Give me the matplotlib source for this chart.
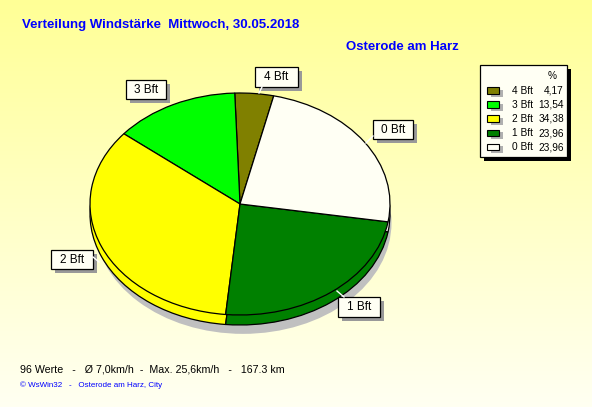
import numpy as np
import matplotlib
matplotlib.use("Agg")
import matplotlib.pyplot as plt
from matplotlib.patches import Rectangle, Ellipse

plt.rcParams['font.family'] = ['Liberation Sans', 'DejaVu Sans']

# ---- data ----
categories = ['4 Bft', '3 Bft', '2 Bft', '1 Bft', '0 Bft']
values = [4.17, 13.54, 34.38, 23.96, 23.96]
value_labels = ['4,17', '13,54', '34,38', '23,96', '23,96']
colors = ['#808000', '#00FF00', '#FFFF00', '#008000', '#FFFFF4']

title = 'Verteilung Windstärke  Mittwoch, 30.05.2018'
station = 'Osterode am Harz'
footer1 = '96 Werte   -   Ø 7,0km/h  -  Max. 25,6km/h   -   167.3 km'
footer2 = '© WsWin32   -   Osterode am Harz, City'

W, H = 592, 407
fig = plt.figure(figsize=(W / 100, H / 100), dpi=100)

# background axes in pixel coords
bg = fig.add_axes([0, 0, 1, 1])
bg.set_xlim(0, W)
bg.set_ylim(H, 0)
bg.axis('off')
top = np.array([255, 255, 150]) / 255
bot = np.array([255, 255, 242]) / 255
t = np.linspace(0, 1, 256)[:, None]
grad = (top[None, :] * (1 - t) + bot[None, :] * t)[:, None, :]
grad = np.repeat(grad, 2, axis=1)
bg.imshow(grad, extent=[0, W, H, 0], aspect='auto', zorder=0)

blue = '#0000FF'
bg.text(22, 25, title, color=blue, fontsize=9.5, fontweight='bold', va='center', ha='left')
bg.text(346, 47, station, color=blue, fontsize=9.5, fontweight='bold', va='center', ha='left')
bg.text(20, 369, footer1, color='black', fontsize=7.7, va='center', ha='left')
bg.text(20, 385.5, footer2, color=blue, fontsize=5.8, va='center', ha='left')

# ---- pie axes (ellipse via auto aspect) ----
px0, px1, py0, py1 = 80, 400, 80, 345
cx, cy, rx, ry = 240, 204, 150, 111
pa = fig.add_axes([px0 / W, (H - py1) / H, (px1 - px0) / W, (py1 - py0) / H])
pa.patch.set_alpha(0)

depth = 10 / ry
# shadow
pa.add_patch(Ellipse((0.02, -0.17), 1.98, 2.0, facecolor='#C0C0C0', edgecolor='none', zorder=0))
wp = dict(edgecolor='black', linewidth=0.9)
pa.pie(values, colors=colors, startangle=77, counterclock=True, center=(0, -depth),
       radius=1.0, wedgeprops=wp, normalize=True, frame=False)
pa.pie(values, colors=colors, startangle=77, counterclock=True, center=(0, 0),
       radius=1.0, wedgeprops=wp, normalize=True, frame=False)
pa.set_xlim((px0 - cx) / rx, (px1 - cx) / rx)
pa.set_ylim(-(py1 - cy) / ry, (cy - py0) / ry)
pa.set_aspect('auto')
pa.axis('off')

# ---- slice labels (boxes in pixel coords) ----
label_boxes = {
    '4 Bft': (255, 67, 43, 20),
    '3 Bft': (126, 80, 40, 19),
    '0 Bft': (373, 120, 40, 19),
    '2 Bft': (51, 250, 42, 19),
    '1 Bft': (338, 297, 42, 20),
}
leaders = {
    '4 Bft': ((262, 87), (259, 93)),
    '0 Bft': ((373, 136), (366, 143)),
    '2 Bft': ((93, 257), (99, 262)),
    '1 Bft': ((344, 297), (337, 291)),
}
for name, (x, y, w, h) in label_boxes.items():
    fig.add_artist(Rectangle((x + 4, y + 4), w, h, facecolor='#999999', edgecolor='none', zorder=5,
                             transform=bg.transData))
    fig.add_artist(Rectangle((x, y), w, h, facecolor='#FFFFF4', edgecolor='black', linewidth=0.9,
                             zorder=6, transform=bg.transData))
    tt = fig.text(0, 0, name, transform=bg.transData, fontsize=8.5, ha='center', va='center', zorder=7)
    tt.set_position((x + w / 2, y + h / 2 + 0.5))
for name, ((x0, y0), (x1, y1)) in leaders.items():
    fig.add_artist(plt.Line2D([x0, x1], [y0, y1], color='white', linewidth=1.0, zorder=6,
                              transform=bg.transData))

# ---- legend ----
lx, ly, lw, lh = 480, 65, 87, 92
fig.add_artist(Rectangle((lx + 3.5, ly + 3.5), lw, lh, facecolor='black', edgecolor='none', zorder=5,
                         transform=bg.transData))
fig.add_artist(Rectangle((lx, ly), lw, lh, facecolor='#FFFFF4', edgecolor='black', linewidth=0.9,
                         zorder=6, transform=bg.transData))
tp = fig.text(0, 0, '%', transform=bg.transData, fontsize=7.3, ha='center', va='center', zorder=7)
tp.set_position((552.5, 76))
row_y0, row_dy = 90.5, 14.2
for i, (name, vl, c) in enumerate(zip(categories, value_labels, colors)):
    yy = row_y0 + i * row_dy
    fig.add_artist(Rectangle((491, yy - 1), 12, 7, facecolor='#B0B0B0', edgecolor='none', zorder=6,
                             transform=bg.transData))
    fig.add_artist(Rectangle((487, yy - 3.5), 11.5, 6.5, facecolor=c, edgecolor='black', linewidth=0.8,
                             zorder=7, transform=bg.transData))
    t1 = fig.text(0, 0, name, transform=bg.transData, fontsize=7.3, ha='left', va='center', zorder=7)
    t1.set_position((512, yy))
    t2 = fig.text(0, 0, vl, transform=bg.transData, fontsize=7.3, ha='right', va='center', zorder=7)
    t2.set_position((564, yy))

fig.savefig('out.png', dpi=100)
